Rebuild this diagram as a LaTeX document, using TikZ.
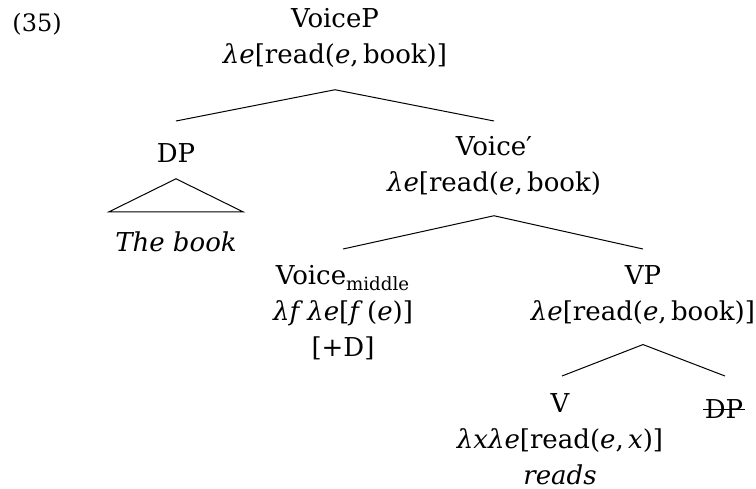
\documentclass[tikz,border=0pt]{standalone}
\usepackage{fontspec}
\setmainfont{DejaVu Serif}
\usetikzlibrary{positioning}

\begin{document}
\begin{tikzpicture}[x=0.5pt, y=-0.5pt]
    \tikzstyle{cat} = [align=center, inner sep=0pt, anchor=north, font=\fontsize{13}{18}\selectfont, execute at begin node=\strut]
    \tikzstyle{branch} = [draw, line width=0.5pt]

    \useasboundingbox (0,0) rectangle (756,488);

    \node [anchor=base west, inner sep=0pt, font=\fontsize{12}{15}\selectfont] (num) at (12,31) {(35)};

    \node [cat] (voicep) at (335,8) {VoiceP\\\textit{λe}[read(\textit{e},\,book)]};
    \node [cat] (dp) at (176,137) {DP};
    \node [cat, below=26pt of dp] (book) {\textit{The book}};
    \node [cat] (voicebar) at (494,136) {Voice′\\\textit{λe}[read(\textit{e},\,book)};
    \node [cat] (voicemid) at (343,265) {Voice\textsubscript{middle}\\\textit{λf}\,\textit{λe}[\textit{f}\,(\textit{e})]\\{}[+D]};
    \node [cat] (vp) at (643,265) {VP\\\textit{λe}[read(\textit{e},\,book)]};
    \node [cat] (v) at (560,393) {V\\\textit{λxλe}[read(\textit{e},\,\textit{x})]\\\textit{reads}};
    \node [cat] (dpobj) at (724,393) {DP};

    % branches
    \path [branch] ([shift={(0,15)}]voicep.south) -- ([shift={(0,-16)}]dp.north);
    \path [branch] ([shift={(0,15)}]voicep.south) -- ([shift={(0,-15)}]voicebar.north);
    \path [branch] ([shift={(0,13)}]voicebar.south) -- ([shift={(0,-16)}]voicemid.north);
    \path [branch] ([shift={(0,13)}]voicebar.south) -- ([shift={(0,-16)}]vp.north);
    \path [branch] ([shift={(0,13)}]vp.south) -- ([shift={(2,-17)}]v.north);
    \path [branch] ([shift={(0,13)}]vp.south) -- ([shift={(1,-17)}]dpobj.north);

    % roof over the DP
    \path [branch] ([shift={(0,5)}]dp.south) -- ([shift={(-67,-14)}]book.north) -- ([shift={(67,-14)}]book.north) -- cycle;

    % struck-out copy
    \path [branch] ([shift={(-1,-9)}]dpobj.base west) -- ([shift={(1,-9)}]dpobj.base east);
\end{tikzpicture}
\end{document}
